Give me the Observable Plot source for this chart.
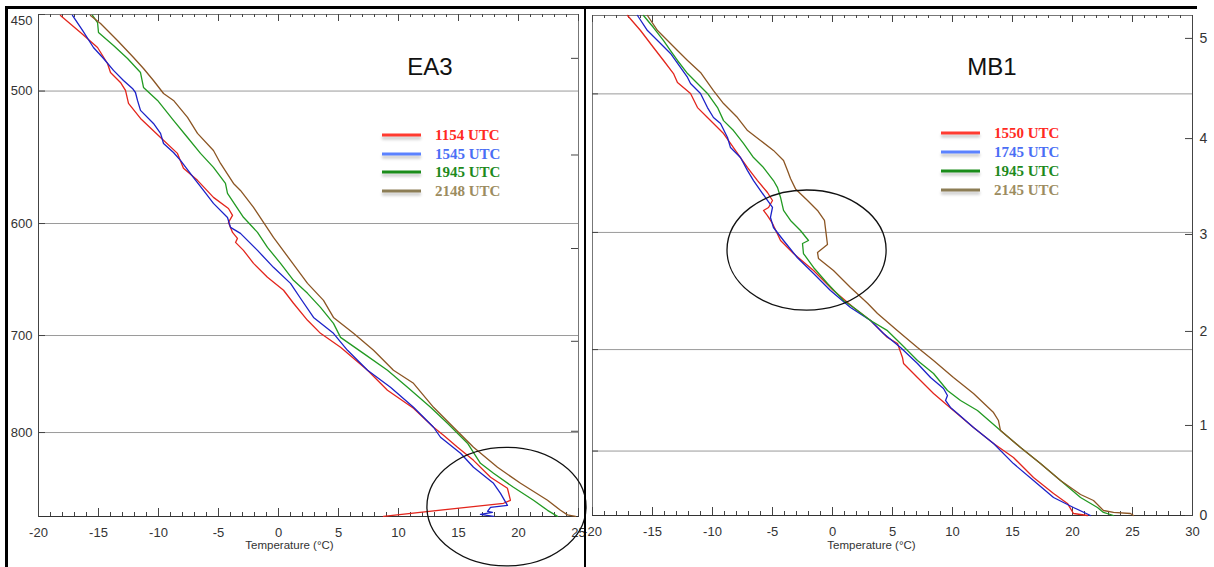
<!DOCTYPE html>
<html><head><meta charset="utf-8">
<script src="https://cdn.jsdelivr.net/npm/d3@7"></script>
<script src="https://cdn.jsdelivr.net/npm/@observablehq/plot@0.6"></script>
<style>
html,body{margin:0;padding:0;background:#fff;}
#wrap{position:relative;width:1214px;height:567px;overflow:hidden;font-family:"Liberation Sans",Arial,sans-serif;background:#fff;}
.panel{position:absolute;top:0;}
.title{position:absolute;font-size:24px;color:#111;transform:translate(-50%,-50%);white-space:nowrap;}
.lrow{position:absolute;white-space:nowrap;font-family:"Liberation Serif","Times New Roman",serif;font-weight:bold;font-size:15px;line-height:18px;transform:translateY(-50%);}
.sw{position:absolute;height:3px;box-shadow:0 3px 3px rgba(0,0,0,0.22);transform:translateY(-50%);}
.border{position:absolute;background:#000;}
</style></head><body><div id="wrap"></div>
<script>
// ---------- DATA ----------
// EA3 panel: [temperature °C, pressure hPa]
const ea3_1154 = [[-18.17,450.6],[-16.5,461.3],[-15.08,470.9],[-14.25,481.4],[-14.0,487.4],[-13.17,494.1],[-12.75,499.6],[-12.5,508.6],[-11.5,519.2],[-9.83,533.0],[-8.42,544.8],[-7.92,556.1],[-6.75,565.4],[-5.42,578.8],[-4.17,587.7],[-3.83,593.3],[-4.17,599.1],[-3.83,607.4],[-3.42,612.4],[-3.58,615.8],[-2.92,622.6],[-2.08,633.8],[-0.92,646.1],[0.42,657.7],[1.25,669.6],[2.42,685.5],[3.5,697.9],[5.17,711.4],[7.42,734.3],[9.08,754.7],[11.25,773.7],[12.92,794.2],[13.75,803.0],[14.92,816.4],[16.25,831.2],[17.67,850.8],[19.08,863.8],[19.33,878.2],[18.75,881.8],[8.75,897.8]];
const ea3_1545 = [[-17.17,450.6],[-16.33,460.0],[-15.42,470.9],[-14.58,478.1],[-13.75,486.0],[-12.92,492.8],[-12.17,498.2],[-11.92,501.0],[-11.75,506.5],[-11.5,513.5],[-10.42,522.8],[-9.83,530.0],[-9.58,537.4],[-8.75,544.1],[-8.17,550.1],[-7.08,563.2],[-6.25,573.3],[-5.42,583.6],[-4.25,595.0],[-4.0,603.2],[-3.17,608.2],[-1.75,622.6],[-0.42,637.3],[1.0,651.5],[1.83,665.0],[2.92,682.8],[4.58,697.9],[5.75,714.4],[7.42,734.3],[9.33,751.7],[11.25,772.7],[12.92,794.2],[13.5,805.2],[15.17,823.2],[16.25,839.2],[17.92,857.9],[18.5,869.8],[19.08,884.3],[17.67,886.7],[17.42,891.6],[17.83,892.8],[16.83,895.3],[17.92,897.8]];
const ea3_1945 = [[-15.5,450.6],[-15.08,455.0],[-15.0,461.3],[-13.75,469.6],[-12.58,478.1],[-11.5,487.4],[-11.25,497.5],[-10.08,506.5],[-8.75,520.6],[-7.58,533.0],[-6.5,544.8],[-5.42,555.4],[-4.42,567.8],[-4.25,575.6],[-2.92,594.9],[-1.75,607.4],[-0.92,620.1],[0.17,633.8],[1.25,648.8],[2.42,660.5],[3.5,673.4],[4.58,688.4],[5.17,701.8],[7.08,717.4],[9.08,734.3],[10.75,751.7],[12.67,772.7],[14.08,789.9],[15.75,811.8],[16.83,834.6],[17.92,846.2],[19.58,862.6],[21.25,878.2],[22.42,890.4],[23.25,897.8]];
const ea3_2148 = [[-15.67,450.6],[-14.83,455.6],[-13.42,466.4],[-12.08,477.4],[-11.25,484.7],[-10.42,492.8],[-9.58,501.7],[-8.75,506.5],[-7.58,518.5],[-6.75,530.0],[-5.42,542.6],[-4.83,552.4],[-3.75,567.8],[-3.17,573.3],[-2.08,586.8],[-1.25,599.1],[-0.42,611.6],[1.0,631.2],[2.42,651.5],[3.75,666.9],[4.58,682.8],[6.25,697.9],[7.92,714.4],[9.58,734.3],[11.25,747.6],[12.92,772.7],[14.58,794.2],[16.25,816.4],[18.25,839.2],[20.17,857.9],[22.42,878.2],[23.5,890.4],[24.08,896.0],[24.75,897.8]];

// MB1 panel: [temperature °C, pressure hPa]
const mb1_1550 = [[-17.08,451.0],[-16.0,460.0],[-14.92,470.4],[-14.08,478.5],[-13.25,486.8],[-12.92,492.6],[-11.83,499.7],[-11.25,509.1],[-10.42,515.8],[-9.58,522.6],[-9.08,526.8],[-8.5,533.7],[-7.67,543.7],[-7.08,550.9],[-6.25,560.4],[-5.42,569.3],[-5.0,575.3],[-5.33,580.6],[-5.75,582.9],[-5.42,586.8],[-5.0,593.0],[-4.33,606.4],[-3.25,616.9],[-1.58,630.8],[0.08,647.6],[1.75,662.3],[3.17,673.7],[4.58,689.0],[5.42,694.4],[5.83,707.3],[5.92,712.9],[7.08,726.2],[8.42,741.6],[10.08,758.4],[11.75,775.5],[13.42,792.1],[15.08,806.8],[16.75,828.3],[18.42,845.9],[19.58,857.1],[20.08,868.5],[21.25,870.8]];
const mb1_1745 = [[-16.25,451.0],[-15.42,460.0],[-14.33,467.9],[-13.5,474.1],[-12.67,482.9],[-12.08,489.3],[-11.83,493.2],[-11.0,499.7],[-10.42,509.1],[-9.92,515.8],[-9.33,519.9],[-8.75,529.5],[-8.5,536.6],[-7.67,543.7],[-7.08,553.1],[-6.58,560.4],[-6.0,567.8],[-5.42,575.3],[-5.0,580.6],[-5.17,588.3],[-4.92,596.1],[-4.08,606.4],[-2.92,620.3],[-1.58,633.3],[-0.17,647.6],[1.5,662.3],[3.17,673.7],[4.25,685.4],[5.67,698.1],[7.08,712.9],[8.17,726.2],[9.25,736.8],[9.58,743.6],[9.42,748.5],[9.83,755.4],[10.42,761.5],[11.75,775.5],[13.42,792.1],[15.08,813.3],[16.75,831.6],[18.42,850.4],[20.08,861.7],[21.5,870.8]];
const mb1_1945 = [[-15.75,451.0],[-14.92,458.2],[-14.08,466.1],[-13.5,472.3],[-12.92,478.5],[-12.08,486.8],[-11.25,493.2],[-10.42,499.7],[-9.58,509.1],[-9.08,517.9],[-8.25,524.7],[-7.42,533.7],[-6.58,543.7],[-5.75,550.9],[-4.92,560.4],[-4.58,565.6],[-4.33,573.0],[-4.08,582.9],[-3.5,590.6],[-2.67,598.5],[-2.0,606.4],[-2.5,608.8],[-2.42,616.9],[-1.58,628.3],[-0.42,641.7],[0.92,656.2],[1.75,662.3],[3.17,673.7],[4.58,682.8],[5.67,694.4],[7.08,710.1],[8.42,722.4],[9.58,738.7],[10.67,748.5],[12.08,758.4],[14.0,778.7],[15.67,796.3],[17.33,813.3],[19.0,831.6],[20.67,850.4],[22.08,861.7],[22.58,867.3],[23.42,870.8]];
const mb1_2145 = [[-15.42,451.0],[-14.58,460.0],[-13.75,466.1],[-12.92,472.3],[-12.08,478.5],[-11.0,486.1],[-9.92,497.8],[-9.08,506.4],[-7.92,515.8],[-7.08,524.7],[-6.0,531.6],[-4.92,538.6],[-4.08,545.8],[-3.75,553.1],[-3.5,558.9],[-3.08,566.6],[-2.08,575.3],[-1.25,582.9],[-0.67,590.6],[-0.42,609.6],[-1.25,616.0],[-1.17,620.9],[0.08,630.8],[1.5,645.1],[2.92,658.6],[3.75,667.6],[5.42,682.8],[7.08,698.1],[8.42,710.1],[10.08,726.2],[11.75,741.6],[13.42,760.5],[13.83,768.5],[14.0,778.7],[15.67,796.3],[17.33,813.3],[19.0,831.6],[20.67,847.1],[21.75,853.8],[22.58,865.1],[23.42,867.3],[24.83,868.5],[25.08,870.8]];

const ea3Names = ["1154 UTC","1545 UTC","1945 UTC","2148 UTC"];
const mb1Names = ["1550 UTC","1745 UTC","1945 UTC","2145 UTC"];

// axes / ticks
const ea3PressureLabels = [450, 500, 600, 700, 800];
const ea3GridPressures = [500, 600, 700, 800];
const ea3HeightTickPressures = [478, 546, 621, 705.6, 798.6];
const eaTempTicks = [-20, -15, -10, -5, 0, 5, 10, 15, 20, 25];
const mbTempTicks = [-20, -15, -10, -5, 0, 5, 10, 15, 20, 25, 30];
const mb1GridPressures = [500, 600, 700, 800];
const mb1HeightTickPressures = [870.8, 773.5, 683.5, 601.6, 530.3, 464.8];
const mb1HeightLabels = ["0", "1", "2", "3", "4", "5"];

// annotations (ellipses): centre temperature, half-width °C, centre pressure, top pressure
const ea3Circle = {T: 19.04, dT: 6.63, P: 886.5, Ptop: 817};
const mb1Circle = {T: -2.12, dT: 6.63, P: 614.5, Ptop: 567.8};

// colours
const lineColors = ["#e3251c", "#1c22c8", "#229a22", "#8b5523"];
const legendLineColors = ["#ff3b30", "#5b82ff", "#1a8c1a", "#8c7d55"];
const legendTextColors = ["#ff2a1f", "#4a6ef5", "#1d8a1d", "#9c8c60"];

// ---------- BUILD ----------
const toRows = (series, names) => series.flatMap((s, k) => s.map(([T, P]) => ({T, P, name: names[k]})));
const eaRows = toRows([ea3_1154, ea3_1545, ea3_1945, ea3_2148], ea3Names);
const mbRows = toRows([mb1_1550, mb1_1745, mb1_1945, mb1_2145], mb1Names);

const H = 567;
const wrap = document.getElementById("wrap");
const baseStyle = {fontFamily: "'Liberation Sans', Arial, sans-serif", fontSize: "13px", background: "transparent", overflow: "visible", color: "#333"};
const minor = (a, b) => d3.range(a, b + 1);
const plain = d => String(d);

function ellipseMark(e) {
  return (index, scales) => {
    const cx = scales.x(e.T), cy = scales.y(e.P);
    const rx = scales.x(e.T + e.dT) - cx, ry = cy - scales.y(e.Ptop);
    return d3.create("svg:ellipse").attr("cx", cx).attr("cy", cy).attr("rx", rx).attr("ry", ry)
      .attr("fill", "none").attr("stroke", "#111").attr("stroke-width", 1.3).node();
  };
}

function tempTicks(majors, lo, hi, innerH) {
  const mins = minor(lo, hi);
  return [
    Plot.tickX(mins, {x: d => d, insetTop: innerH - 4, stroke: "#444"}),
    Plot.tickX(majors, {x: d => d, insetTop: innerH - 8, stroke: "#444"}),
    Plot.tickX(mins, {x: d => d, insetBottom: innerH - 3, stroke: "#444"}),
    Plot.tickX(majors, {x: d => d, insetBottom: innerH - 7, stroke: "#444"}),
    Plot.axisX(majors, {anchor: "bottom", tickSize: 0, tickPadding: 11, fontSize: 13, label: null, tickFormat: plain, color: "#333"})
  ];
}

// EA3 panel
{
  const ml = 38, mr = 6, mt = 14, mb = 51, W = 584;
  const innerW = W - ml - mr, innerH = H - mt - mb;
  const p = Plot.plot({
    width: W, height: H, marginLeft: ml, marginRight: mr, marginTop: mt, marginBottom: mb,
    x: {domain: [-20, 25]},
    y: {type: "log", domain: [450, 898], reverse: true},
    color: {domain: ea3Names, range: lineColors},
    style: baseStyle,
    marks: [
      Plot.ruleY(ea3GridPressures, {y: d => d, stroke: "#9a9a9a"}),
      Plot.frame({stroke: "#777"}),
      Plot.frame({anchor: "bottom", stroke: "#333"}),
      Plot.frame({anchor: "left", stroke: "#444"}),
      ...tempTicks(eaTempTicks, -20, 25, innerH),
      Plot.tickY(ea3PressureLabels, {y: d => d, insetRight: innerW - 7, stroke: "#444"}),
      Plot.tickY(ea3HeightTickPressures, {y: d => d, insetLeft: innerW - 7, stroke: "#444"}),
      Plot.axisY([450], {anchor: "left", tickSize: 0, tickPadding: 6, dy: 6, fontSize: 13, label: null, tickFormat: plain, color: "#333"}),
      Plot.axisY(ea3GridPressures, {anchor: "left", tickSize: 0, tickPadding: 6, fontSize: 13, label: null, tickFormat: plain, color: "#333"}),
      Plot.text(["Temperature (°C)"], {text: d => d, frameAnchor: "bottom", dy: 32, dx: -19, fontSize: 11.5, fill: "#333"}),
      Plot.line(eaRows, {x: "T", y: "P", z: "name", stroke: "name", strokeWidth: 1.3}),
      ellipseMark(ea3Circle)
    ]
  });
  p.classList.add("panel");
  p.style.left = "0px";
  wrap.appendChild(p);
}

// MB1 panel
{
  const ml = 8, mr = 22, mt = 15, mb = 52, W = 630;
  const innerW = W - ml - mr, innerH = H - mt - mb;
  const labelMap = new Map(mb1HeightTickPressures.map((p, i) => [p, mb1HeightLabels[i]]));
  const p = Plot.plot({
    width: W, height: H, marginLeft: ml, marginRight: mr, marginTop: mt, marginBottom: mb,
    x: {domain: [-20, 30]},
    y: {type: "log", domain: [451, 870.8], reverse: true},
    color: {domain: mb1Names, range: lineColors},
    style: baseStyle,
    marks: [
      Plot.ruleY(mb1GridPressures, {y: d => d, stroke: "#9a9a9a"}),
      Plot.frame({stroke: "#777"}),
      Plot.frame({anchor: "bottom", stroke: "#333"}),
      Plot.frame({anchor: "right", stroke: "#444"}),
      ...tempTicks(mbTempTicks, -20, 30, innerH),
      Plot.tickY(mb1GridPressures, {y: d => d, insetRight: innerW - 6, stroke: "#444"}),
      Plot.tickY(mb1HeightTickPressures, {y: d => d, insetLeft: innerW - 7, stroke: "#444"}),
      Plot.axisY(mb1HeightTickPressures, {anchor: "right", tickSize: 0, tickPadding: 7, fontSize: 14, label: null, tickFormat: d => labelMap.get(d), color: "#333"}),
      Plot.text(["Temperature (°C)"], {text: d => d, frameAnchor: "bottom", dy: 33, dx: -21, fontSize: 11.5, fill: "#333"}),
      Plot.line(mbRows, {x: "T", y: "P", z: "name", stroke: "name", strokeWidth: 1.3}),
      ellipseMark(mb1Circle)
    ]
  });
  p.classList.add("panel");
  p.style.left = "584px";
  wrap.appendChild(p);
}

// titles
function addTitle(text, x, y) {
  const d = document.createElement("div");
  d.className = "title"; d.textContent = text;
  d.style.left = x + "px"; d.style.top = y + "px";
  wrap.appendChild(d);
}
addTitle("EA3", 430, 67);
addTitle("MB1", 992, 67);

// legends
function addLegend(names, x0, y0, step) {
  names.forEach((n, i) => {
    const y = y0 + i * step;
    const sw = document.createElement("div");
    sw.className = "sw";
    sw.style.left = x0 + "px"; sw.style.width = "39px"; sw.style.top = y + "px";
    sw.style.background = legendLineColors[i];
    wrap.appendChild(sw);
    const t = document.createElement("div");
    t.className = "lrow"; t.textContent = n;
    t.style.left = (x0 + 53) + "px"; t.style.top = y + "px";
    t.style.color = legendTextColors[i];
    wrap.appendChild(t);
  });
}
addLegend(ea3Names, 382, 135, 18.7);
addLegend(mb1Names, 941, 133, 19);

// outer black frame lines
function addBorder(l, t, w, h) {
  const d = document.createElement("div");
  d.className = "border";
  Object.assign(d.style, {left: l + "px", top: t + "px", width: w + "px", height: h + "px"});
  wrap.appendChild(d);
}
addBorder(5, 6, 1192, 3);
addBorder(5, 6, 3, 561);
addBorder(584, 6, 2, 561);
</script></body></html>
